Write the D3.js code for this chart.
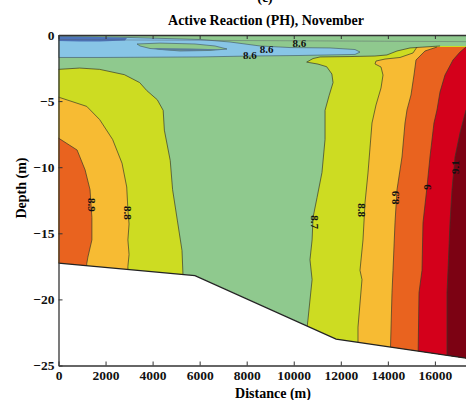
<!DOCTYPE html>
<html>
<head>
<meta charset="utf-8">
<script src="https://cdn.jsdelivr.net/npm/d3@7"></script>
<style>
  body { margin: 0; background: #fff; }
  text { font-family: "Liberation Serif", "Times New Roman", serif; font-weight: bold; }
</style>
</head>
<body>
<svg id="chart"></svg>
<script>
var screen = {width: 466, height: 400};
var xMax = 17322;

// tick values
var xTicks = [0, 2000, 4000, 6000, 8000, 10000, 12000, 14000, 16000];
var yTicks = [0, -5, -10, -15, -20, -25];

// sea bottom [distance, depth]
var bottom = [[0, -17.25], [5800, -18.2], [11800, -23.0], [17322, -24.45]];

// contour lines, [distance, depth]
var left87 = [[-600, -2.6], [0, -2.6], [900, -2.5], [1750, -2.6], [2800, -3.0], [3450, -3.6], [3750, -4.2],
  [4200, -4.9], [4450, -5.7], [4500, -7.2], [4750, -9.5], [4850, -11.7], [5050, -14.0], [5250, -16.3], [5300, -18.5], [5300, -20]];
var left88 = [[-600, -4.7], [0, -4.7], [1200, -5.4], [1750, -6.4], [2300, -7.9], [2700, -9.7], [2900, -11.5],
  [2950, -13.2], [3000, -14.3], [2950, -15.5], [3000, -16.6], [2950, -17.5], [2950, -19]];
var left89 = [[-600, -7.8], [0, -7.8], [790, -8.7], [1130, -10.2], [1340, -11.7], [1420, -13.8], [1420, -15.5],
  [1250, -16.8], [1200, -17.3], [1200, -19]];

var right87Top = [[17800, -0.83], [16220, -0.83], [14940, -0.98], [14390, -1.21], [13960, -1.51], [13450, -1.59],
  [12390, -1.63], [11120, -1.66], [10820, -1.78]];
var right87 = [[10550, -2.05], [11030, -2.2], [11400, -2.4], [11620, -2.95], [11670, -3.6], [11500, -4.6],
  [11330, -5.7], [11330, -7.9], [11200, -10.4], [10990, -12.3], [10820, -13.8], [10780, -15.5], [10690, -17.0],
  [10780, -18.5], [10600, -21.6], [10520, -22.8], [10500, -24]];
var right88 = [[15239, -0.91], [15069, -1.36], [14516, -1.7], [13879, -1.82], [13496, -1.97], [13454, -2.19],
  [13709, -2.42], [13794, -3.03], [13709, -4.01], [13496, -5.3], [13326, -6.66], [13156, -10.44], [13029, -12.7],
  [12944, -15.5], [12816, -17.8], [12901, -18.5], [12731, -22.1], [12731, -25]];
var right89 = [[16089, -0.91], [15579, -1.21], [15196, -1.89], [15111, -3.03], [14984, -4.54], [14814, -5.67],
  [14729, -6.66], [14601, -9.23], [14389, -11.7], [14304, -14.2], [14219, -17.8], [14176, -19.5], [14091, -25]];
var right90 = [[17322, -0.91], [17067, -1.29], [16769, -1.89], [16429, -3.03], [16217, -4.31], [16089, -5.67],
  [15961, -6.66], [15791, -9.23], [15664, -11.5], [15494, -14.2], [15452, -17.8], [15324, -19.5], [15281, -25]];
var right91 = [[17800, -5.0], [17322, -5.67], [17067, -7.41], [16854, -9.23], [16727, -11.7], [16642, -14.2],
  [16557, -17.8], [16514, -19.5], [16514, -25]];

// surface layer shapes
var blue86 = [[0, -0.11], [3039, -0.19], [6015, -0.34], [7290, -0.53], [8565, -0.83], [9841, -0.95], [11541, -0.98],
  [12604, -1.1], [12816, -1.29], [12604, -1.47], [10266, -1.55], [8140, -1.59], [6015, -1.66], [1764, -1.7], [0, -1.7]];
var lens = [[3337, -0.68], [4315, -0.61], [5802, -0.68], [6653, -0.83], [7163, -1.06], [6440, -1.17], [5165, -1.21],
  [3890, -1.02], [3464, -0.83]];
var lensCore = [[3974, -0.98], [5590, -1.02], [7163, -1.1], [5590, -1.21], [4315, -1.13]];
var blue85 = [[0, -0.11], [1764, -0.15], [2912, -0.23], [2827, -0.42], [1764, -0.49], [914, -0.49], [0, -0.45]];

// contour labels [text, distance, depth, angle]
var labels = [["8.6", 8140, -1.55, 0], ["8.6", 8850, -1.05, 0], ["8.6", 10240, -0.6, 0],
  ["8.9", 1400, -12.85, 90], ["8.8", 2950, -13.45, 90], ["8.7", 10900, -14.15, 90],
  ["8.8", 12900, -13.25, 90], ["8.9", 14300, -12.3, -90], ["9", 15650, -11.5, -90], ["9.1", 16850, -10.0, -90]];

var colors = {blue85: "#4d74b9", blue86: "#88c5e6", green: "#8fc98e", yellow: "#cddc22", lightOrange: "#f7bb33",
  orange: "#e9631f", red: "#d4001b", darkRed: "#7c0213", lensCore: "#5b7d98"};

var svg = d3.select("#chart")
  .attr("width", screen.width)
  .attr("height", screen.height);

var x = d3.scaleLinear().domain([0, xMax]).range([58.5, 466]);
var y = d3.scaleLinear().domain([0, -25]).range([35, 365.5]);

var line = d3.line().x(function(d) { return x(d[0]); }).y(function(d) { return y(d[1]); });
var poly = function(pts) { return line(pts) + "Z"; };

var water = [[0, 0], [xMax, 0]].concat(bottom.slice().reverse());

svg.append("clipPath").attr("id", "waterClip")
  .append("path").attr("d", poly(water));

var g = svg.append("g").attr("clip-path", "url(#waterClip)");

g.append("path").attr("d", poly(water)).attr("fill", colors.green);

// surface layers
g.append("path").attr("d", poly(blue86)).attr("fill", colors.blue86).attr("stroke", "#3d5060").attr("stroke-width", 0.6);
g.append("path").attr("d", poly(lens)).attr("fill", colors.green).attr("stroke", "#3d5060").attr("stroke-width", 0.6);
g.append("path").attr("d", poly(lensCore)).attr("fill", colors.lensCore);
g.append("path").attr("d", poly(blue85)).attr("fill", colors.blue85);

// left bands
var leftBand = function(pts, color) {
  var p = pts.concat([[-600, pts[pts.length - 1][1]]]);
  g.append("path").attr("d", poly(p)).attr("fill", color);
};
leftBand(left87, colors.yellow);
leftBand(left88, colors.lightOrange);
leftBand(left89, colors.orange);

// right bands
var rightBand = function(pts, color) {
  var p = pts.concat([[17800, -26], [17800, pts[0][1]]]);
  g.append("path").attr("d", poly(p)).attr("fill", color);
};
rightBand(right87Top.concat(right87), colors.yellow);
rightBand(right88, colors.lightOrange);
rightBand(right89, colors.orange);
rightBand(right90, colors.red);
rightBand(right91, colors.darkRed);

// contour lines
[left87, left88, left89, right87Top.slice(1).concat(right87), right88, right89, right90, right91].forEach(function(c) {
  g.append("path").attr("d", line(c)).attr("fill", "none")
    .attr("stroke", "#3a3a2a").attr("stroke-width", 0.7);
});
g.append("path").attr("d", line([[0, -0.35], [xMax, -0.5]])).attr("fill", "none")
  .attr("stroke", "#556").attr("stroke-width", 0.6).attr("opacity", 0.7);

// sea bottom line
svg.append("path").attr("d", line(bottom)).attr("fill", "none")
  .attr("stroke", "#222").attr("stroke-width", 1.3);

// labels
svg.selectAll(".clabel").data(labels).enter().append("text")
  .attr("class", "clabel")
  .attr("transform", function(d) { return "translate(" + x(d[1]) + "," + y(d[2]) + ") rotate(" + d[3] + ")"; })
  .attr("text-anchor", "middle")
  .attr("dy", "0.35em")
  .attr("font-size", 11)
  .attr("fill", "#111")
  .text(function(d) { return d[0]; });

// axes
var axisG = svg.append("g").attr("id", "axis");
axisG.append("g")
  .attr("transform", "translate(0," + y(-25) + ")")
  .call(d3.axisBottom(x).tickValues(xTicks).tickFormat(d3.format("d"))
    .tickSizeInner(-4).tickSizeOuter(0).tickPadding(5));
axisG.append("g")
  .attr("transform", "translate(0," + y(0) + ")")
  .call(d3.axisTop(x).tickValues(xTicks).tickSizeInner(-4).tickSizeOuter(0).tickFormat(""));
axisG.append("g")
  .attr("transform", "translate(" + x(0) + ",0)")
  .call(d3.axisLeft(y).tickValues(yTicks).tickSizeInner(-4).tickSizeOuter(0).tickPadding(4));

axisG.selectAll("path.domain").attr("stroke", "#333").attr("stroke-width", 1.3);
axisG.selectAll(".tick line").attr("stroke", "#333");
axisG.selectAll("text").attr("font-size", 13.5).attr("fill", "#111")
  .attr("font-family", "Liberation Serif, serif").attr("font-weight", "bold");

// titles
svg.append("text").attr("x", 265).attr("y", 2).attr("text-anchor", "middle")
  .attr("font-size", 14).text("(c)");
svg.append("text").attr("x", 266).attr("y", 25).attr("text-anchor", "middle")
  .attr("font-size", 14).text("Active Reaction (PH), November");
svg.append("text").attr("x", 273).attr("y", 398).attr("text-anchor", "middle")
  .attr("font-size", 14).text("Distance (m)");
svg.append("text").attr("transform", "translate(26,188) rotate(-90)").attr("text-anchor", "middle")
  .attr("font-size", 14).text("Depth (m)");
</script>
</body>
</html>
